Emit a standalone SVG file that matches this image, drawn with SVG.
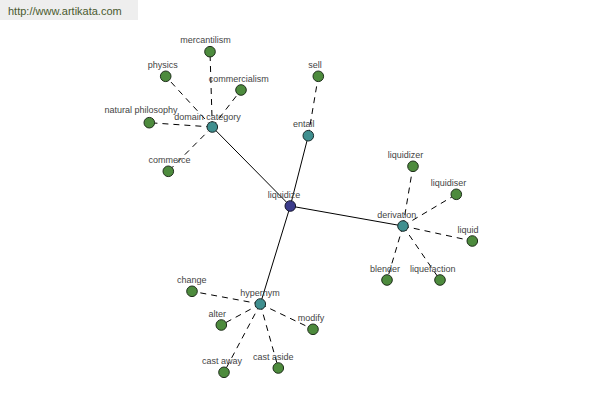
<svg xmlns="http://www.w3.org/2000/svg" width="600" height="400" viewBox="0 0 600 400">
<style>
  .bg { fill: #ffffff; }
  .hdr { fill: #eeeeee; }
  .hdrtxt { font-family: "Liberation Sans", Arial, sans-serif; font-size: 11px; fill: #4a5a2e; }
  .lbl { font-family: "Liberation Sans", Arial, sans-serif; font-size: 9px; fill: #444444; text-anchor: middle; }
  .solid { stroke: #000000; stroke-width: 1; fill: none; }
  .dash { stroke: #000000; stroke-width: 1; fill: none; stroke-dasharray: 6 5; }
  .leaf { fill: #4d8b3d; stroke: #1e2e1a; stroke-width: 1; }
  .hub { fill: #3f8f8f; stroke: #1a2a2a; stroke-width: 1; }
  .root { fill: #3b3b8b; stroke: #15152a; stroke-width: 1; }
</style>
<rect class="bg" x="0" y="0" width="600" height="400"/>
<g id="header">
  <rect class="hdr" x="0" y="0" width="138" height="20"/>
  <text class="hdrtxt" x="8" y="15">http://www.artikata.com</text>
</g>
<g id="connectors">
  <line class="solid" x1="290.3" y1="206" x2="212.3" y2="127"/>
  <line class="solid" x1="290.3" y1="206" x2="308.3" y2="135.7"/>
  <line class="solid" x1="290.3" y1="206" x2="403" y2="226"/>
  <line class="solid" x1="290.3" y1="206" x2="260.3" y2="304"/>
  <line class="dash" x1="308.3" y1="135.7" x2="318.3" y2="76.3"/>
  <line class="dash" x1="212.3" y1="127" x2="210" y2="51.7"/>
  <line class="dash" x1="212.3" y1="127" x2="165.7" y2="76.3"/>
  <line class="dash" x1="212.3" y1="127" x2="241" y2="90"/>
  <line class="dash" x1="212.3" y1="127" x2="149.3" y2="122.7"/>
  <line class="dash" x1="212.3" y1="127" x2="168.3" y2="171.3"/>
  <line class="dash" x1="403" y1="226" x2="413" y2="166.3"/>
  <line class="dash" x1="403" y1="226" x2="456.3" y2="194.3"/>
  <line class="dash" x1="403" y1="226" x2="472.3" y2="241"/>
  <line class="dash" x1="403" y1="226" x2="387" y2="280"/>
  <line class="dash" x1="403" y1="226" x2="440" y2="280"/>
  <line class="dash" x1="260.3" y1="304" x2="192" y2="291.3"/>
  <line class="dash" x1="260.3" y1="304" x2="221.3" y2="325"/>
  <line class="dash" x1="260.3" y1="304" x2="313" y2="329.3"/>
  <line class="dash" x1="260.3" y1="304" x2="224" y2="372.3"/>
  <line class="dash" x1="260.3" y1="304" x2="278.3" y2="368"/>
</g>
<g id="n-mercantilism"><circle class="leaf" cx="210" cy="51.7" r="5.3"/><text class="lbl" x="205.5" y="43">mercantilism</text></g>
<g id="n-physics"><circle class="leaf" cx="165.7" cy="76.3" r="5.3"/><text class="lbl" x="162.7" y="68">physics</text></g>
<g id="n-commercialism"><circle class="leaf" cx="241" cy="90" r="5.3"/><text class="lbl" x="238.7" y="82.3">commercialism</text></g>
<g id="n-natural-philosophy"><circle class="leaf" cx="149.3" cy="122.7" r="5.3"/><text class="lbl" x="141" y="113">natural philosophy</text></g>
<g id="n-commerce"><circle class="leaf" cx="168.3" cy="171.3" r="5.3"/><text class="lbl" x="169.5" y="163">commerce</text></g>
<g id="n-sell"><circle class="leaf" cx="318.3" cy="76.3" r="5.3"/><text class="lbl" x="315" y="68">sell</text></g>
<g id="n-liquidizer"><circle class="leaf" cx="413" cy="166.3" r="5.3"/><text class="lbl" x="405.5" y="158">liquidizer</text></g>
<g id="n-liquidiser"><circle class="leaf" cx="456.3" cy="194.3" r="5.3"/><text class="lbl" x="448.5" y="185.7">liquidiser</text></g>
<g id="n-liquid"><circle class="leaf" cx="472.3" cy="241" r="5.3"/><text class="lbl" x="468" y="233">liquid</text></g>
<g id="n-blender"><circle class="leaf" cx="387" cy="280" r="5.3"/><text class="lbl" x="385" y="272">blender</text></g>
<g id="n-liquefaction"><circle class="leaf" cx="440" cy="280" r="5.3"/><text class="lbl" x="432.8" y="272">liquefaction</text></g>
<g id="n-change"><circle class="leaf" cx="192" cy="291.3" r="5.3"/><text class="lbl" x="191.7" y="283">change</text></g>
<g id="n-alter"><circle class="leaf" cx="221.3" cy="325" r="5.3"/><text class="lbl" x="217.2" y="317">alter</text></g>
<g id="n-modify"><circle class="leaf" cx="313" cy="329.3" r="5.3"/><text class="lbl" x="311" y="320.7">modify</text></g>
<g id="n-cast-away"><circle class="leaf" cx="224" cy="372.3" r="5.3"/><text class="lbl" x="222" y="363.7">cast away</text></g>
<g id="n-cast-aside"><circle class="leaf" cx="278.3" cy="368" r="5.3"/><text class="lbl" x="273.3" y="360.3">cast aside</text></g>
<g id="n-domain-category"><circle class="hub" cx="212.3" cy="127" r="5.3"/><text class="lbl" x="207.5" y="119.7">domain category</text></g>
<g id="n-entail"><circle class="hub" cx="308.3" cy="135.7" r="5.3"/><text class="lbl" x="303.8" y="127">entail</text></g>
<g id="n-derivation"><circle class="hub" cx="403" cy="226" r="5.3"/><text class="lbl" x="396.8" y="217.7">derivation</text></g>
<g id="n-hypernym"><circle class="hub" cx="260.3" cy="304" r="5.3"/><text class="lbl" x="260" y="296.3">hypernym</text></g>
<g id="n-liquidize"><circle class="root" cx="290.3" cy="206" r="5.3"/><text class="lbl" x="284" y="198">liquidize</text></g>
</svg>
